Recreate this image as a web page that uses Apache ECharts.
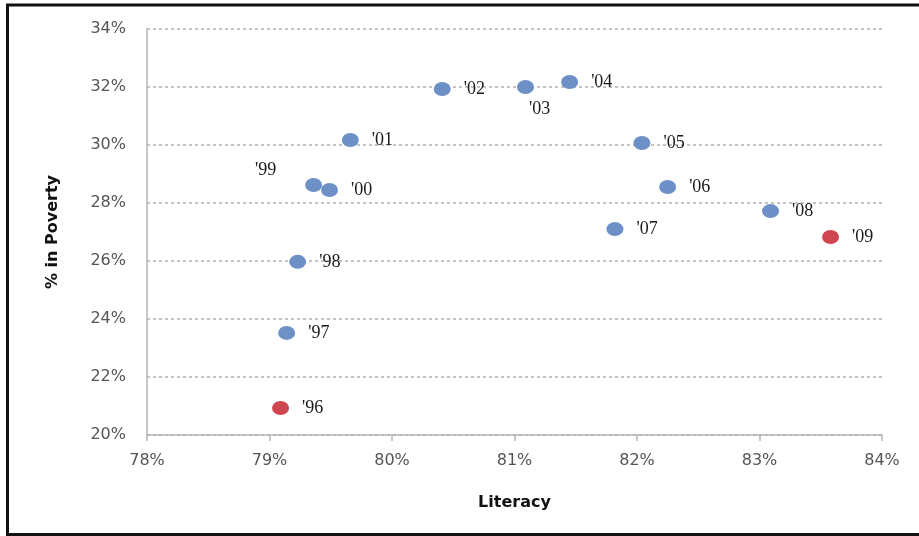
<!DOCTYPE html>
<html>
<head>
<meta charset="utf-8">
<script src="https://cdn.jsdelivr.net/npm/echarts@6/dist/echarts.min.js"></script>
<style>
  html, body { margin: 0; padding: 0; background: #fff; }
  #chart { width: 919px; height: 536px; }
</style>
</head>
<body>
<div id="chart"></div>
<script>
// Poverty rate against literacy rate, one point per year
const years    = ["'96", "'97", "'98", "'99", "'00", "'01", "'02", "'03", "'04", "'05", "'06", "'07", "'08", "'09"];
const literacy = [79.09, 79.14, 79.23, 79.36, 79.49, 79.66, 80.41, 81.09, 81.45, 82.04, 82.25, 81.82, 83.09, 83.58];
const poverty  = [20.93, 23.52, 25.97, 28.62, 28.45, 30.17, 31.93, 32.00, 32.17, 30.07, 28.55, 27.10, 27.72, 26.83];
// first and last year are highlighted
const highlighted = ["'96", "'09"];

const xTicks = { min: 78, max: 84, step: 1 };
const yTicks = { min: 20, max: 34, step: 2 };

const blue = '#6d90c6';
const red = '#cf4650';

// label placement tweaks for crowded points
const labelPos = {
  "'99": [-50, -17],
  "'03": [12, 20]
};

const data = years.map((y, i) => {
  const item = {
    value: [literacy[i], poverty[i]],
    name: y,
    itemStyle: { color: highlighted.includes(y) ? red : blue, opacity: 1 }
  };
  if (labelPos[y]) {
    item.label = { position: labelPos[y] };
  }
  return item;
});

const chart = echarts.init(document.getElementById('chart'));
chart.setOption({
  backgroundColor: '#fff',
  animation: false,
  grid: { left: 147, right: 37, top: 29, bottom: 101 },
  graphic: [{
    type: 'rect',
    shape: { x: 7.5, y: 5, width: 1000, height: 529.5 },
    style: { fill: 'none', stroke: '#111', lineWidth: 3 },
    silent: true
  }],
  xAxis: {
    type: 'value',
    min: xTicks.min, max: xTicks.max, interval: xTicks.step,
    name: 'Literacy',
    nameLocation: 'middle',
    nameGap: 60,
    nameTextStyle: { fontFamily: 'DejaVu Sans', fontWeight: 'bold', fontSize: 16, color: '#111' },
    axisLine: { show: true, lineStyle: { color: '#b5b5b5', width: 1.5 } },
    axisTick: { show: true, length: 6, lineStyle: { color: '#b5b5b5', width: 1.5 } },
    axisLabel: {
      margin: 18,
      fontFamily: 'DejaVu Sans', fontSize: 16, color: '#555',
      formatter: v => v + '%'
    },
    splitLine: { show: false }
  },
  yAxis: {
    type: 'value',
    min: yTicks.min, max: yTicks.max, interval: yTicks.step,
    name: '% in Poverty',
    nameLocation: 'middle',
    nameGap: 86,
    nameRotate: 90,
    nameTextStyle: { fontFamily: 'DejaVu Sans', fontWeight: 'bold', fontSize: 16, color: '#111' },
    axisLine: { show: true, lineStyle: { color: '#b5b5b5', width: 1.5 } },
    axisTick: { show: false },
    axisLabel: {
      margin: 21,
      fontFamily: 'DejaVu Sans', fontSize: 16, color: '#555',
      formatter: v => v + '%'
    },
    splitLine: { show: true, lineStyle: { color: '#b0b0b0', type: [3, 3], width: 1.5 } }
  },
  series: [{
    type: 'scatter',
    symbol: 'circle',
    symbolSize: [17, 14],
    data: data,
    label: {
      show: true,
      position: 'right',
      distance: 13,
      formatter: p => p.name,
      fontFamily: 'Liberation Serif',
      fontSize: 18,
      color: '#1a1a1a'
    }
  }]
});
</script>
</body>
</html>
